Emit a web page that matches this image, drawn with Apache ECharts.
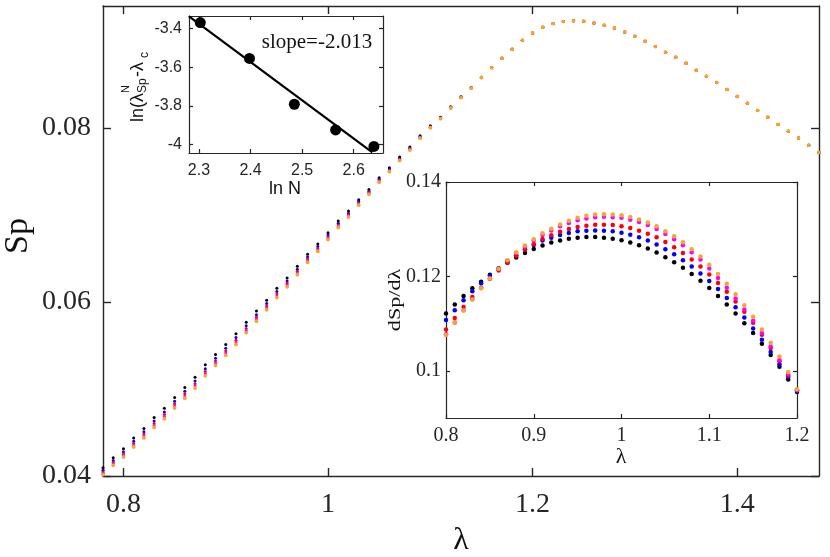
<!DOCTYPE html>
<html><head><meta charset="utf-8">
<script src="https://cdn.jsdelivr.net/npm/echarts@6/dist/echarts.min.js"></script>
<style>html,body{margin:0;padding:0;background:#fff}#c{width:830px;height:557px}</style>
</head><body><div id="c"></div>
<script>
// ---------- main plot data: Sp vs lambda ----------
const mainLambda = [0.78,0.79,0.80,0.81,0.82,0.83,0.84,0.85,0.86,0.87,0.88,0.89,0.90,0.91,0.92,0.93,0.94,0.95,0.96,0.97,0.98,0.99,1.00,1.01,1.02,1.03,1.04,1.05,1.06,1.07,1.08,1.09,1.10,1.11,1.12,1.13,1.14,1.15,1.16,1.17,1.18,1.19,1.20,1.21,1.22,1.23,1.24,1.25,1.26,1.27,1.28,1.29,1.30,1.31,1.32,1.33,1.34,1.35,1.36,1.37,1.38,1.39,1.40,1.41,1.42,1.43,1.44,1.45,1.46,1.47,1.48];
const spTail = [0.08800,0.08904,0.09006,0.09091,0.09156,0.09198,0.09221,0.09230,0.09225,0.09205,0.09180,0.09148,0.09102,0.09052,0.08995,0.08934,0.08869,0.08811,0.08743,0.08662,0.08593,0.08521,0.08441,0.08360,0.08283,0.08200,0.08123,0.08039,0.07962,0.07882,0.07801,0.07718];
const spBlack = [0.04095,0.04210,0.04313,0.04436,0.04547,0.04673,0.04777,0.04903,0.05018,0.05136,0.05277,0.05396,0.05511,0.05633,0.05767,0.05895,0.06020,0.06157,0.06276,0.06410,0.06547,0.06666,0.06796,0.06930,0.07044,0.07175,0.07293,0.07427,0.07542,0.07664,0.07779,0.07910,0.08024,0.08123,0.08242,0.08357,0.08463,0.08582,0.08693].concat(spTail);
const spBlue = [0.04067,0.04179,0.04280,0.04400,0.04509,0.04633,0.04736,0.04860,0.04975,0.05092,0.05233,0.05352,0.05468,0.05590,0.05725,0.05854,0.05981,0.06120,0.06240,0.06376,0.06515,0.06636,0.06768,0.06904,0.07020,0.07153,0.07273,0.07409,0.07526,0.07650,0.07767,0.07900,0.08016,0.08117,0.08237,0.08354,0.08461,0.08580,0.08692].concat(spTail);
const spRed = [0.04047,0.04157,0.04256,0.04374,0.04482,0.04604,0.04706,0.04830,0.04944,0.05061,0.05201,0.05321,0.05437,0.05560,0.05696,0.05825,0.05953,0.06093,0.06215,0.06352,0.06492,0.06614,0.06748,0.06885,0.07003,0.07137,0.07259,0.07396,0.07514,0.07640,0.07759,0.07893,0.08010,0.08112,0.08234,0.08351,0.08459,0.08579,0.08692].concat(spTail);
const spMagenta = [0.04031,0.04140,0.04237,0.04354,0.04460,0.04581,0.04683,0.04805,0.04919,0.05036,0.05176,0.05296,0.05412,0.05535,0.05672,0.05802,0.05931,0.06071,0.06194,0.06332,0.06473,0.06597,0.06732,0.06870,0.06989,0.07125,0.07247,0.07385,0.07505,0.07632,0.07752,0.07887,0.08006,0.08109,0.08231,0.08349,0.08457,0.08578,0.08691].concat(spTail);
const spOrange = [0.04015,0.04122,0.04218,0.04333,0.04438,0.04558,0.04659,0.04781,0.04894,0.05011,0.05151,0.05271,0.05387,0.05511,0.05648,0.05779,0.05909,0.06050,0.06174,0.06313,0.06455,0.06580,0.06716,0.06855,0.06975,0.07112,0.07236,0.07375,0.07496,0.07624,0.07745,0.07881,0.08001,0.08105,0.08228,0.08347,0.08456,0.08577,0.08691].concat(spTail);

// ---------- lower-right inset: dSp/dlambda ----------
const insetLambda = [0.80,0.81,0.82,0.83,0.84,0.85,0.86,0.87,0.88,0.89,0.90,0.91,0.92,0.93,0.94,0.95,0.96,0.97,0.98,0.99,1.00,1.01,1.02,1.03,1.04,1.05,1.06,1.07,1.08,1.09,1.10,1.11,1.12,1.13,1.14,1.15,1.16,1.17,1.18,1.19,1.20];
const dBlack = [0.11214,0.11404,0.11586,0.11747,0.11888,0.12035,0.12168,0.12288,0.12400,0.12498,0.12582,0.12653,0.12716,0.12758,0.12800,0.12821,0.12835,0.12835,0.12821,0.12800,0.12765,0.12716,0.12660,0.12589,0.12505,0.12407,0.12302,0.12182,0.12049,0.11909,0.11754,0.11586,0.11404,0.11214,0.11010,0.10800,0.10575,0.10337,0.10084,0.09818,0.09551];
const dBlue = [0.11074,0.11284,0.11495,0.11684,0.11853,0.12014,0.12168,0.12316,0.12449,0.12568,0.12667,0.12758,0.12821,0.12877,0.12919,0.12954,0.12968,0.12975,0.12968,0.12954,0.12926,0.12884,0.12828,0.12758,0.12674,0.12575,0.12470,0.12344,0.12210,0.12063,0.11902,0.11733,0.11544,0.11347,0.11130,0.10898,0.10660,0.10400,0.10140,0.09867,0.09579];
const dRed = [0.10877,0.11116,0.11354,0.11565,0.11761,0.11951,0.12126,0.12288,0.12435,0.12568,0.12688,0.12793,0.12870,0.12947,0.13004,0.13046,0.13074,0.13095,0.13095,0.13088,0.13060,0.13025,0.12968,0.12905,0.12828,0.12730,0.12618,0.12498,0.12358,0.12210,0.12042,0.11860,0.11677,0.11467,0.11249,0.11018,0.10765,0.10484,0.10204,0.09902,0.09600];
const dMagenta = [0.10775,0.11025,0.11285,0.11515,0.11752,0.11960,0.12158,0.12335,0.12498,0.12633,0.12760,0.12877,0.12975,0.13060,0.13130,0.13188,0.13228,0.13255,0.13262,0.13255,0.13240,0.13200,0.13150,0.13088,0.13004,0.12898,0.12786,0.12660,0.12512,0.12358,0.12168,0.11965,0.11760,0.11530,0.11300,0.11060,0.10800,0.10520,0.10230,0.09930,0.09590];
const dOrange = [0.10758,0.11018,0.11277,0.11509,0.11747,0.11958,0.12161,0.12344,0.12512,0.12653,0.12786,0.12912,0.13010,0.13102,0.13179,0.13242,0.13284,0.13312,0.13319,0.13312,0.13298,0.13256,0.13207,0.13144,0.13060,0.12954,0.12849,0.12723,0.12575,0.12421,0.12246,0.12049,0.11846,0.11621,0.11390,0.11144,0.10877,0.10596,0.10302,0.09972,0.09607];

// ---------- upper-left inset: scaling ----------
const lnN = [2.3026,2.3979,2.4849,2.5649,2.6391];
const lnDiff = [-3.369,-3.554,-3.791,-3.924,-4.009];
const fitX = [2.2807,2.636];
const fitY = [-3.337,-4.040];

// ---------- tick labels ----------
const mainXTicks = [0.8,1,1.2,1.4];
const mainYTicks = [0.04,0.06,0.08];
const insetXTicks = [0.8,0.9,1,1.1,1.2];
const insetYTicks = [0.1,0.12,0.14];
const smallXTicks = [2.3,2.4,2.5,2.6];
const smallYTicks = [-4,-3.8,-3.6,-3.4];

const seriesColors = ['#000000','#0000ff','#ff0000','#ff00ff','#f0a830'];
const mainSizes = [3, 3, 3, 3, 3.8];
const SERIF = "'Liberation Serif','Times New Roman',serif";
const SANS = "'Liberation Sans',Arial,sans-serif";
const AX = '#262626';

function axis(opt) {
  return {
    type: 'value', gridIndex: opt.grid, min: opt.min, max: opt.max, position: opt.pos,
    axisLine: {show: true, onZero: false, lineStyle: {color: AX, width: opt.lw || 1.2}},
    axisTick: {show: true, inside: true, length: opt.tl, customValues: opt.ticks, lineStyle: {color: AX, width: opt.lw || 1.2}},
    axisLabel: {show: !!opt.label, customValues: opt.ticks, margin: opt.margin || 8,
      fontFamily: opt.font, fontSize: opt.fs, color: AX},
    splitLine: {show: false}
  };
}

const xAxis = [
  axis({grid:0,min:0.78,max:1.48,pos:'bottom',ticks:mainXTicks,tl:8,label:true,font:SERIF,fs:28,margin:15,lw:1.4}),
  axis({grid:0,min:0.78,max:1.48,pos:'top',ticks:mainXTicks,tl:8,lw:1.4}),
  axis({grid:1,min:0.8,max:1.2,pos:'bottom',ticks:insetXTicks,tl:4,label:true,font:SERIF,fs:20,margin:8}),
  axis({grid:1,min:0.8,max:1.2,pos:'top',ticks:insetXTicks,tl:4}),
  axis({grid:2,min:2.2807,max:2.6567,pos:'bottom',ticks:smallXTicks,tl:4,label:true,font:SANS,fs:16,margin:10}),
  axis({grid:2,min:2.2807,max:2.6567,pos:'top',ticks:smallXTicks,tl:4})
];
const yAxis = [
  axis({grid:0,min:0.04,max:0.094,pos:'left',ticks:mainYTicks,tl:8,label:true,font:SERIF,fs:28,margin:12,lw:1.4}),
  axis({grid:0,min:0.04,max:0.094,pos:'right',ticks:mainYTicks,tl:8,lw:1.4}),
  axis({grid:1,min:0.09,max:0.14,pos:'left',ticks:insetYTicks,tl:4,label:true,font:SERIF,fs:20,margin:5}),
  axis({grid:1,min:0.09,max:0.14,pos:'right',ticks:insetYTicks,tl:4}),
  axis({grid:2,min:-4.043,max:-3.335,pos:'left',ticks:smallYTicks,tl:4,label:true,font:SANS,fs:16,margin:7}),
  axis({grid:2,min:-4.043,max:-3.335,pos:'right',ticks:smallYTicks,tl:4})
];

const mainSets = [spBlack, spBlue, spRed, spMagenta, spOrange];
const insetSets = [dBlack, dBlue, dRed, dMagenta, dOrange];
const series = [];
mainSets.forEach((arr, k) => series.push({
  type: 'scatter', xAxisIndex: 0, yAxisIndex: 0, symbol: 'circle', symbolSize: mainSizes[k],
  itemStyle: {color: seriesColors[k], opacity: 1}, silent: true, z: 2 + k * 0.1,
  data: mainLambda.map((x, i) => [x, arr[i]])
}));
insetSets.forEach((arr, k) => series.push({
  type: 'scatter', xAxisIndex: 2, yAxisIndex: 2, symbol: 'circle', symbolSize: 4.5,
  itemStyle: {color: seriesColors[k], opacity: 1}, silent: true,
  data: insetLambda.map((x, i) => [x, arr[i]])
}));
series.push({
  type: 'line', xAxisIndex: 4, yAxisIndex: 4, showSymbol: false, silent: true,
  lineStyle: {color: '#000', width: 2.2},
  data: fitX.map((x, i) => [x, fitY[i]])
});
series.push({
  type: 'scatter', xAxisIndex: 4, yAxisIndex: 4, symbol: 'circle', symbolSize: 11, silent: true,
  itemStyle: {color: '#000', opacity: 1}, z: 3,
  data: lnN.map((x, i) => [x, lnDiff[i]])
});

function txt(s, x, y, font, size, extra) {
  return Object.assign({
    type: 'text', x: x, y: y, silent: true,
    style: {text: s, fontFamily: font, fontSize: size, font: size + 'px ' + font, fill: '#111',
      textAlign: 'center', align: 'center', textVerticalAlign: 'middle', verticalAlign: 'middle'}
  }, extra || {});
}
function sub(s, x, y, size) {
  return {type: 'text', x: x, y: y, silent: true,
    style: {text: s, fontFamily: SANS, fontSize: size, font: size + 'px ' + SANS, fill: '#111',
      textAlign: 'left', align: 'left', textVerticalAlign: 'middle', verticalAlign: 'middle'}};
}

const graphic = [
  txt('Sp', 18, 236, SERIF, 34, {rotation: Math.PI / 2}),
  txt('λ', 461, 541, SERIF, 32),
  txt('λ', 621, 457, SERIF, 22),
  txt('dSp/dλ', 396, 300, SERIF, 17, {rotation: Math.PI / 2, scaleX: 1.3}),
  txt('ln N', 285, 189, SANS, 18),
  txt('slope=-2.013', 317, 42, SERIF, 21),
  {type: 'group', x: 137.6, y: 122, rotation: Math.PI / 2, silent: true, children: [
    sub('ln(λ', 0, 0, 18),
    sub('N', 29, -12, 11),
    sub('Sp', 29, 5, 12),
    sub('-λ', 45, 0, 18),
    sub('c', 64, 7, 12)
  ]}
];

const option = {
  animation: false,
  backgroundColor: '#fff',
  grid: [
    {left: 103, top: 6, width: 716, height: 470},
    {left: 446, top: 182, width: 351, height: 236, show: true, backgroundColor: '#fff', borderWidth: 0},
    {left: 189, top: 16, width: 194, height: 137, show: true, backgroundColor: '#fff', borderWidth: 0}
  ],
  xAxis: xAxis,
  yAxis: yAxis,
  series: series,
  graphic: graphic
};
const chart = echarts.init(document.getElementById('c'), null, {renderer: 'canvas'});
chart.setOption(option);
</script></body></html>
